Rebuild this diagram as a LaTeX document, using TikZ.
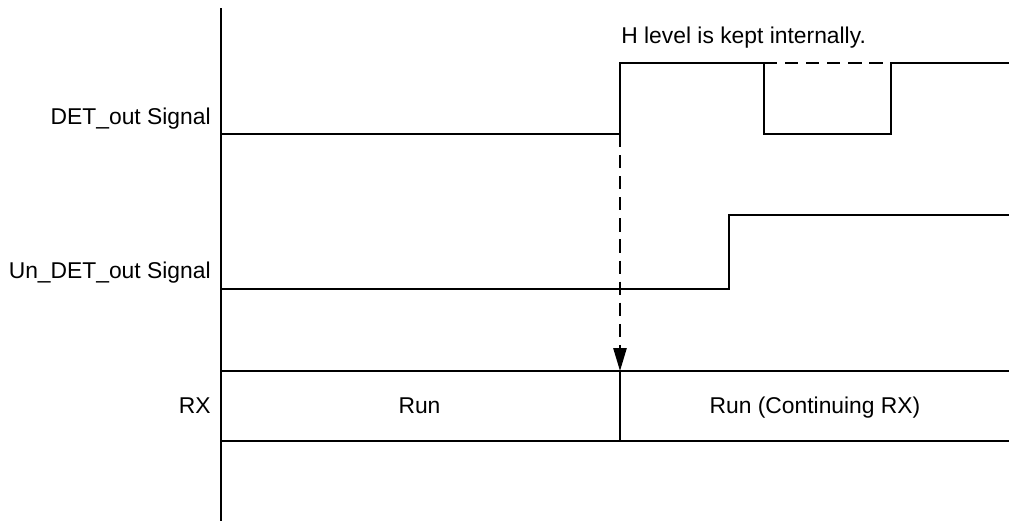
\documentclass[tikz,border=0pt]{standalone}
\usepackage{fontspec}
\setmainfont{Liberation Sans}
\usepackage{tikz}
\usetikzlibrary{arrows.meta, positioning, calc}

\tikzset{
	sig/.style={line width=1pt},
	hold/.style={sig, dash pattern=on 7.5pt off 4.5pt},
	lbl/.style={font=\fontsize{13}{15}\selectfont, inner sep=0pt},
}

\begin{document}
\begin{tikzpicture}[x=0.02cm, y=-0.02cm]
				\useasboundingbox (0,0) rectangle (1009,522);
				% time axis
				\coordinate (axtop) at (221,8);
				\coordinate (axbot) at (221,521);
				\draw[sig] (axtop) -- (axbot);
				% signal names
				\node[lbl, anchor=base east] (ndet) at (211,124) {DET\_out Signal};
				\node[lbl, anchor=base east] (nundet) at (211,278) {Un\_DET\_out Signal};
				\node[lbl, anchor=base east] (nrx) at (211,413) {RX};
				% DET_out waveform
				\coordinate (detrise) at (620,134);
				\draw[sig] (221,134) -- (detrise) -- (620,63) -- (764,63) -- (764,134) -- (891,134) -- (891,63) -- (1009,63);
				\draw[hold] (764,63) -- (891,63);
				\node[lbl, anchor=base west] (nhold) at (621,43) {H level is kept internally.};
				% Un_DET_out waveform
				\draw[sig] (221,289) -- (729,289) -- (729,215) -- (1009,215);
				% RX state bar
				\coordinate (rxsplit) at (620,371);
				\draw[sig] (221,371) -- (1009,371);
				\draw[sig] (221,441) -- (1009,441);
				\draw[sig] (rxsplit) -- (620,441);
				\node[lbl, anchor=base] (nrun) at (419.5,413) {Run};
				\node[lbl, anchor=base] (nruncont) at (815,413) {Run (Continuing RX)};
				% trigger arrow
				\draw[hold, -{Triangle[length=13pt, width=7.5pt]}] (detrise) -- (rxsplit);
			\end{tikzpicture}
\end{document}
